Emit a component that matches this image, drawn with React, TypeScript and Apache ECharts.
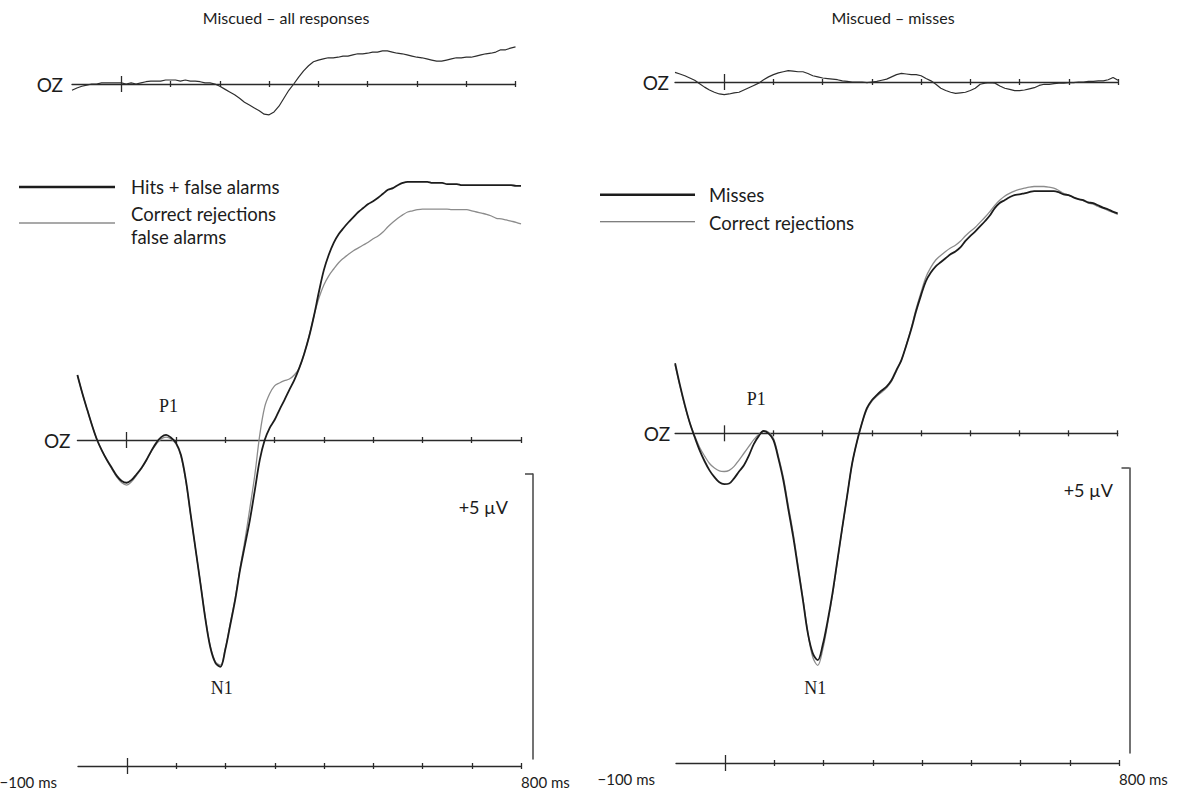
import { useEffect, useRef } from 'react';
import * as echarts from 'echarts';

// ---------- data ----------
const T_MIN = -100;
const T_MAX = 800;
const TIMES = Array.from({ length: 91 }, (_, i) => T_MIN + i * 10); // sampling grid (ms)

const MINOR_TICKS = [100, 200, 300, 400, 500, 600, 700, 800];
const MAJOR_TICKS = [0];
const TIME_LABEL_VALUES = [-100, 800];
const TIME_LABELS = ['\u2212100 ms', '800 ms'];

const TITLES = ['Miscued \u2013 all responses', 'Miscued \u2013 misses'];
const CHANNEL = 'OZ';
const SCALE_UV = 5;
const SCALE_LABEL = '+5 \u00b5V';
const PEAK_NAMES = ['P1', 'N1'];
const L_PEAK_POS = [[85, 0.6], [193, -4.35]];
const R_PEAK_POS = [[65, 0.6], [185, -4.47]];

const L_NAMES = ['Hits + false alarms', 'Correct rejections', 'false alarms'];
const R_NAMES = ['Misses', 'Correct rejections'];

// Left panel: main waveforms (µV)
const L_HITS_FA = [
  1.14, 0.82, 0.53, 0.25, 0, -0.19, -0.35, -0.49, -0.63, -0.72, -0.75,
  -0.70, -0.60, -0.49, -0.35, -0.19, -0.05, 0.05, 0.09, 0.04, -0.05,
  -0.26, -0.70, -1.32, -1.93, -2.54, -3.16, -3.65, -3.91, -3.98, -3.68,
  -3.25, -2.81, -2.28, -1.84, -1.40, -0.88, -0.35, 0, 0.21, 0.35,
  0.53, 0.70, 0.88, 1.05, 1.26, 1.51, 1.81, 2.18, 2.60, 2.98,
  3.25, 3.46, 3.61, 3.72, 3.82, 3.91, 4.00, 4.07, 4.14, 4.19,
  4.25, 4.32, 4.39, 4.42, 4.47, 4.51, 4.53, 4.53, 4.53, 4.53,
  4.53, 4.51, 4.51, 4.51, 4.49, 4.49, 4.49, 4.47, 4.47, 4.47,
  4.47, 4.47, 4.47, 4.47, 4.47, 4.47, 4.47, 4.47, 4.46, 4.46,
];
const L_CORRECT_REJ = [
  1.14, 0.82, 0.53, 0.25, 0, -0.19, -0.36, -0.51, -0.65, -0.75, -0.79,
  -0.73, -0.62, -0.50, -0.36, -0.20, -0.07, 0.02, 0.05, 0.02, -0.07,
  -0.28, -0.72, -1.33, -1.93, -2.53, -3.14, -3.63, -3.89, -3.95, -3.66,
  -3.22, -2.78, -2.25, -1.75, -1.19, -0.61, 0.09, 0.58, 0.81, 0.95,
  1.00, 1.04, 1.07, 1.14, 1.26, 1.51, 1.82, 2.18, 2.49, 2.72,
  2.88, 3.00, 3.11, 3.19, 3.26, 3.32, 3.37, 3.42, 3.47, 3.53,
  3.58, 3.65, 3.74, 3.82, 3.89, 3.95, 4.00, 4.02, 4.04, 4.05,
  4.05, 4.05, 4.05, 4.05, 4.05, 4.04, 4.04, 4.04, 4.04, 4.02,
  4.00, 3.98, 3.96, 3.93, 3.89, 3.88, 3.86, 3.84, 3.82, 3.79,
];
// Left panel: difference wave (µV)
const L_DIFF = [
  -0.11, -0.07, -0.04, -0.02, 0, 0, 0.02, 0.02, 0.02, 0.02, 0.02,
  0, 0.02, 0, 0.02, 0.04, 0.05, 0.05, 0.05, 0.07, 0.07,
  0.07, 0.05, 0.07, 0.05, 0.05, 0.04, 0.02, 0.02, 0, -0.04,
  -0.09, -0.14, -0.19, -0.25, -0.32, -0.37, -0.42, -0.47, -0.53, -0.54,
  -0.49, -0.39, -0.25, -0.11, 0, 0.12, 0.23, 0.32, 0.39, 0.42,
  0.44, 0.46, 0.46, 0.47, 0.49, 0.49, 0.51, 0.53, 0.53, 0.54,
  0.56, 0.56, 0.58, 0.58, 0.56, 0.54, 0.53, 0.51, 0.49, 0.47,
  0.46, 0.44, 0.42, 0.40, 0.40, 0.42, 0.44, 0.46, 0.46, 0.47,
  0.47, 0.49, 0.51, 0.53, 0.54, 0.56, 0.60, 0.60, 0.63, 0.65,
];
// Right panel: main waveforms (µV)
const R_MISSES = [
  1.23, 0.84, 0.49, 0.18, -0.07, -0.30, -0.49, -0.65, -0.77, -0.86, -0.89,
  -0.88, -0.79, -0.67, -0.56, -0.39, -0.19, -0.05, 0.04, 0, -0.12,
  -0.44, -0.82, -1.32, -1.81, -2.37, -2.93, -3.51, -3.86, -3.98, -3.72,
  -3.30, -2.81, -2.23, -1.65, -1.09, -0.53, -0.14, 0.18, 0.44, 0.58,
  0.67, 0.75, 0.82, 0.93, 1.11, 1.28, 1.54, 1.82, 2.14, 2.42,
  2.67, 2.82, 2.93, 3.00, 3.07, 3.14, 3.19, 3.26, 3.37, 3.46,
  3.54, 3.63, 3.72, 3.82, 3.95, 4.04, 4.09, 4.14, 4.18, 4.19,
  4.21, 4.23, 4.25, 4.25, 4.25, 4.25, 4.25, 4.23, 4.19, 4.18,
  4.14, 4.11, 4.09, 4.05, 4.04, 4.00, 3.96, 3.93, 3.89, 3.86,
];
const R_CORRECT_REJ = [
  1.20, 0.82, 0.47, 0.18, -0.05, -0.25, -0.40, -0.53, -0.61, -0.66, -0.67,
  -0.65, -0.58, -0.47, -0.35, -0.23, -0.11, -0.02, 0.04, 0.02, -0.09,
  -0.40, -0.77, -1.26, -1.75, -2.32, -2.90, -3.50, -3.93, -4.07, -3.80,
  -3.35, -2.84, -2.25, -1.66, -1.09, -0.53, -0.14, 0.18, 0.42, 0.56,
  0.65, 0.72, 0.80, 0.91, 1.09, 1.28, 1.54, 1.84, 2.18, 2.47,
  2.74, 2.91, 3.04, 3.12, 3.19, 3.25, 3.30, 3.37, 3.46, 3.54,
  3.61, 3.70, 3.79, 3.89, 4.00, 4.09, 4.16, 4.21, 4.25, 4.28,
  4.30, 4.32, 4.33, 4.33, 4.33, 4.32, 4.30, 4.26, 4.21, 4.18,
  4.14, 4.11, 4.08, 4.04, 4.02, 3.98, 3.95, 3.91, 3.88, 3.84,
];
// Right panel: difference wave (µV)
const R_DIFF = [
  0.17, 0.14, 0.11, 0.07, 0.03, -0.03, -0.09, -0.14, -0.18, -0.21, -0.22,
  -0.21, -0.19, -0.18, -0.14, -0.10, -0.06, -0.02, 0.04, 0.09, 0.13,
  0.16, 0.18, 0.20, 0.19, 0.18, 0.18, 0.15, 0.11, 0.09, 0.07,
  0.06, 0.05, 0.04, 0.02, 0.01, 0, 0, 0, -0.01, 0,
  0.01, 0.03, 0.05, 0.09, 0.13, 0.15, 0.14, 0.13, 0.13, 0.11,
  0.06, 0.02, -0.04, -0.11, -0.15, -0.18, -0.20, -0.19, -0.18, -0.15,
  -0.11, -0.04, -0.02, -0.01, -0.02, -0.07, -0.11, -0.13, -0.15, -0.15,
  -0.14, -0.12, -0.10, -0.06, -0.04, -0.04, -0.03, -0.02, -0.02, -0.01,
  -0.01, 0, 0, 0.01, 0.01, 0.02, 0.02, 0.04, 0.08, 0.03,
];

// ---------- layout / style ----------
const PX_PER_UV = 57;
const SANS = 'Lato, "Open Sans", sans-serif';
const SERIF = '"Liberation Serif", "DejaVu Serif", serif';
const INK = '#1c1c1c';
const AX = { color: '#2a2a2a', width: 1.3 };

function buildOption() {
  const grids: any[] = [];
  const xAxes: any[] = [];
  const yAxes: any[] = [];
  const series: any[] = [];

  const addGrid = (g: any) => grids.push({ ...g, containLabel: false, outerBoundsMode: 'none' }) - 1;

  const dataGrid = (left: number, width: number, y0: number, range: number) => {
    const gi = addGrid({ left, width, top: y0 - range * PX_PER_UV, height: 2 * range * PX_PER_UV });
    xAxes.push({ gridIndex: gi, type: 'value', min: T_MIN, max: T_MAX, show: false });
    yAxes.push({ gridIndex: gi, type: 'value', min: -range, max: range, show: false });
    return { xAxisIndex: xAxes.length - 1, yAxisIndex: yAxes.length - 1 };
  };

  const axisLineGrid = (left: number, width: number, y0: number, name: string | null, nameGap: number, labels: boolean) => {
    const gi = addGrid({ left, width, top: y0, height: 0 });
    yAxes.push({ gridIndex: gi, type: 'value', min: 0, max: 1, show: false });
    const common = { gridIndex: gi, type: 'value', min: T_MIN, max: T_MAX, splitLine: { show: false } };
    xAxes.push({
      ...common,
      position: 'bottom',
      axisLine: { show: true, onZero: false, lineStyle: AX },
      axisTick: { show: true, customValues: MINOR_TICKS, length: 3, lineStyle: AX },
      axisLabel: labels
        ? {
            show: true,
            customValues: TIME_LABEL_VALUES,
            formatter: (v: number) => TIME_LABELS[TIME_LABEL_VALUES.indexOf(v)] ?? '',
            alignMinLabel: 'right',
            alignMaxLabel: 'left',
            padding: [0, 21, 0, 0],
            margin: 8,
            fontFamily: SANS,
            fontSize: 15,
            color: INK,
          }
        : { show: false },
      name: name ?? undefined,
      nameLocation: 'start',
      nameGap,
      nameTextStyle: { fontFamily: SANS, fontSize: 19, color: INK },
    });
    xAxes.push({
      ...common,
      position: 'top',
      axisLine: { show: false, onZero: false },
      axisTick: { show: true, customValues: MINOR_TICKS, length: 3, lineStyle: AX },
      axisLabel: { show: false },
    });
    xAxes.push({
      ...common,
      position: 'bottom',
      axisLine: { show: false, onZero: false },
      axisTick: { show: true, customValues: MAJOR_TICKS, length: 8, lineStyle: AX },
      axisLabel: { show: false },
    });
    xAxes.push({
      ...common,
      position: 'top',
      axisLine: { show: false, onZero: false },
      axisTick: { show: true, customValues: MAJOR_TICKS, length: 8, lineStyle: AX },
      axisLabel: { show: false },
    });
  };

  const scaleBar = (x: number, top: number) => {
    const gi = addGrid({ left: x, top, width: 0, height: SCALE_UV * PX_PER_UV });
    xAxes.push({ gridIndex: gi, type: 'value', min: 0, max: 1, show: false });
    yAxes.push({
      gridIndex: gi,
      type: 'value',
      min: 0,
      max: SCALE_UV,
      position: 'left',
      axisLine: { show: true, onZero: false, lineStyle: { color: '#444', width: 1.5 } },
      axisTick: { show: true, customValues: [SCALE_UV], length: 8, lineStyle: { color: '#444', width: 1.5 } },
      axisLabel: { show: false },
      splitLine: { show: false },
    });
  };

  const pairs = (arr: number[]) => TIMES.map((t, i) => [t, arr[i]]);

  const peakMarks = (pos: number[][]) => ({
    symbol: 'circle',
    symbolSize: 1,
    itemStyle: { color: 'rgba(0,0,0,0)' },
    label: {
      show: true,
      position: 'inside',
      formatter: (p: any) => p.name,
      fontFamily: SERIF,
      fontSize: 18,
      color: INK,
    },
    data: PEAK_NAMES.map((n, i) => ({ name: n, coord: pos[i] })),
  });

  const panel = (
    p: {
      diffLeft: number; diffWidth: number; diffY0: number; diffGap: number;
      mainLeft: number; mainWidth: number; mainY0: number; mainGap: number;
      timeLeft: number; timeWidth: number; timeY0: number;
      barX: number; barTop: number;
    },
    blackName: string,
    grayName: string,
    black: number[],
    gray: number[],
    diff: number[],
    peaks: number[][],
  ) => {
    const d = dataGrid(p.diffLeft, p.diffWidth, p.diffY0, 1);
    axisLineGrid(p.diffLeft, p.diffWidth, p.diffY0, CHANNEL, p.diffGap, false);
    const m = dataGrid(p.mainLeft, p.mainWidth, p.mainY0, 5);
    axisLineGrid(p.mainLeft, p.mainWidth, p.mainY0, CHANNEL, p.mainGap, false);
    axisLineGrid(p.timeLeft, p.timeWidth, p.timeY0, null, 0, true);
    scaleBar(p.barX, p.barTop);

    series.push({
      type: 'line', name: blackName + ' (difference)', ...d, data: pairs(diff),
      showSymbol: false, symbol: 'none', smooth: false,
      lineStyle: { color: '#2e2e2e', width: 1.2 }, z: 3,
    });
    series.push({
      type: 'line', name: grayName, ...m, data: pairs(gray),
      showSymbol: false, symbol: 'none', smooth: 0.35,
      lineStyle: { color: '#8c8c8c', width: 1.3 }, z: 2,
    });
    series.push({
      type: 'line', name: blackName, ...m, data: pairs(black),
      showSymbol: false, symbol: 'none', smooth: 0.35,
      lineStyle: { color: INK, width: 1.8 }, z: 3,
      markPoint: peakMarks(peaks),
    });
  };

  panel(
    {
      diffLeft: 72, diffWidth: 443.5, diffY0: 84, diffGap: 9,
      mainLeft: 77.4, mainWidth: 443.6, mainY0: 440, mainGap: 7,
      timeLeft: 78, timeWidth: 443, timeY0: 766,
      barX: 533, barTop: 474,
    },
    L_NAMES[0], L_NAMES[1] + ' ' + L_NAMES[2], L_HITS_FA, L_CORRECT_REJ, L_DIFF, L_PEAK_POS,
  );
  panel(
    {
      diffLeft: 675, diffWidth: 443, diffY0: 82, diffGap: 6,
      mainLeft: 675.1, mainWidth: 442.6, mainY0: 433.3, mainGap: 5,
      timeLeft: 676, timeWidth: 443, timeY0: 763,
      barX: 1129.5, barTop: 468,
    },
    R_NAMES[0], R_NAMES[1], R_MISSES, R_CORRECT_REJ, R_DIFF, R_PEAK_POS,
  );

  const text = (x: number, y: number, t: string, size: number, align = 'left', vAlign = 'middle') => ({
    type: 'text',
    x,
    y,
    style: { text: t, fill: INK, font: `${size}px ${SANS}`, align, verticalAlign: vAlign },
  });
  const hline = (x1: number, x2: number, y: number, color: string, width: number) => ({
    type: 'line',
    shape: { x1, y1: y, x2, y2: y },
    style: { stroke: color, lineWidth: width },
  });

  const graphic = [
    text(286, 17, TITLES[0], 16, 'center'),
    text(893, 17, TITLES[1], 16, 'center'),
    // legends
    hline(19, 115, 187, INK, 2.6),
    text(131, 187, L_NAMES[0], 18.5),
    hline(19, 115, 223, '#555', 1.1),
    text(131, 213.5, L_NAMES[1], 18.5),
    text(131, 236.5, L_NAMES[2], 18.5),
    hline(600, 695, 194.7, INK, 2.6),
    text(709, 195, R_NAMES[0], 18.5),
    hline(600, 695, 221.7, '#555', 1.1),
    text(709, 223, R_NAMES[1], 18.5),
    // scale bar labels
    text(508, 507, SCALE_LABEL, 18, 'right'),
    text(1113, 490, SCALE_LABEL, 18, 'right'),
  ];

  return {
    animation: false,
    backgroundColor: '#ffffff',
    grid: grids,
    xAxis: xAxes,
    yAxis: yAxes,
    series,
    graphic,
  };
}

export default function App() {
  const ref = useRef<HTMLDivElement>(null);
  useEffect(() => {
    if (!ref.current) return;
    const chart = echarts.init(ref.current, null, { renderer: 'svg' });
    chart.setOption(buildOption() as any);
    return () => chart.dispose();
  }, []);
  return (
    <div
      ref={ref}
      style={{ position: 'fixed', left: 0, top: 0, width: 1183, height: 794, background: '#fff' }}
    />
  );
}
